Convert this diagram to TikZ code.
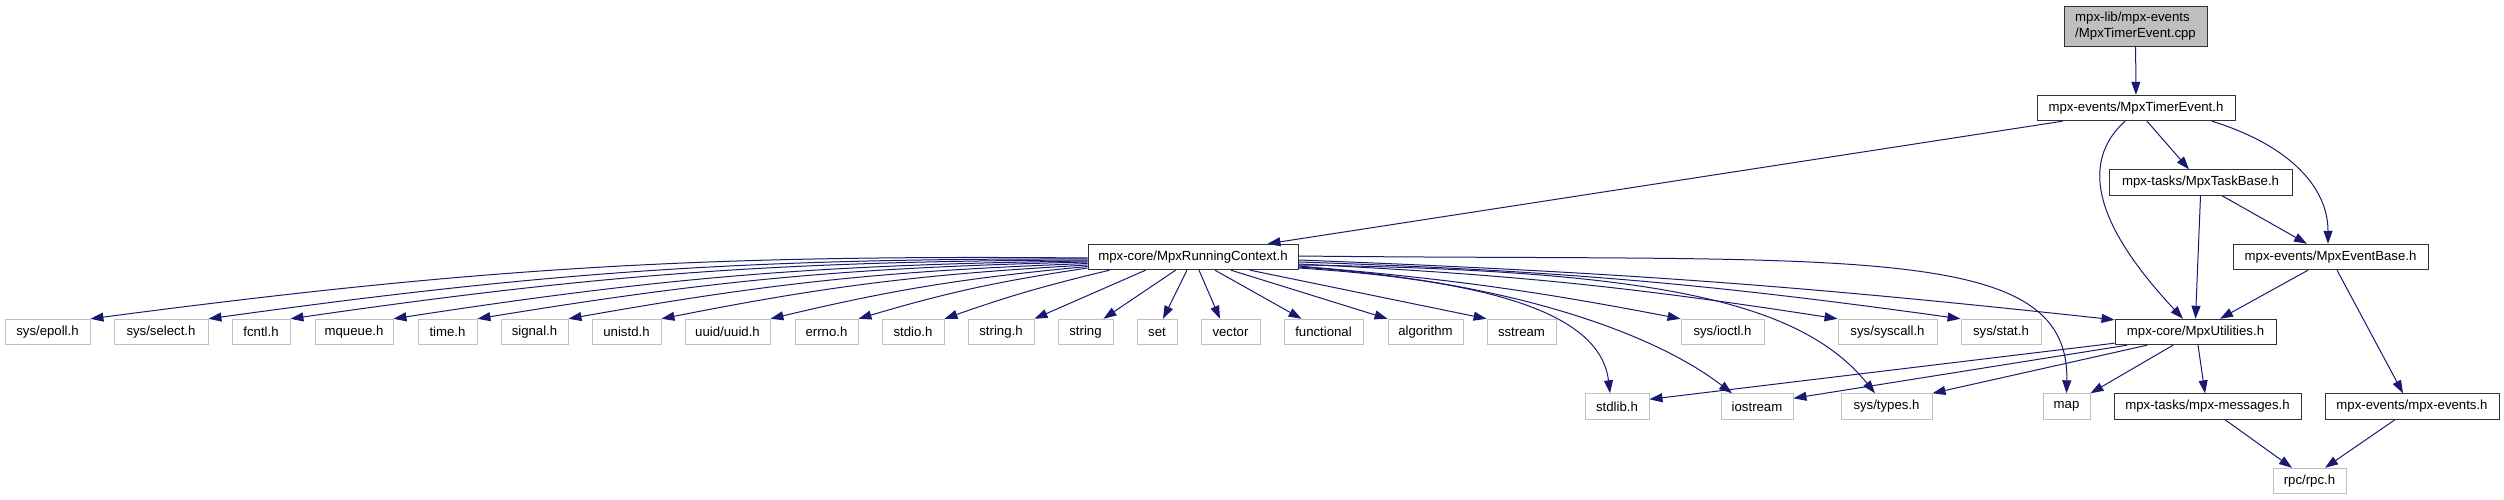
\documentclass[tikz,border=0pt]{standalone}
\usepackage{fontspec}
\setmainfont{Liberation Sans}
\usetikzlibrary{arrows.meta}
\definecolor{edgeblue}{HTML}{191970}
\definecolor{extgray}{HTML}{BFBFBF}
\tikzset{
  file/.style={draw=black!80, line width=0.9pt, fill=white, inner sep=0pt,
    minimum height=25.5pt, font=\fontsize{13.2}{16}\selectfont},
  sysfile/.style={file, draw=extgray},
  inc/.style={draw=edgeblue, line width=1pt, -{Triangle[length=13pt,width=9pt]}}
}
\begin{document}
\begin{tikzpicture}[x=1pt,y=1pt]
        \useasboundingbox (0,0) rectangle (2504,-500);
        % files of the project
        \node[file, fill=extgray, minimum width=143pt, minimum height=40pt, align=left] (root) at (2135.5,-26) {mpx-lib/mpx-events\\/MpxTimerEvent.cpp};
        \node[file, minimum width=198pt] (tev) at (2136,-108) {mpx-events/MpxTimerEvent.h};
        \node[file, minimum width=183pt] (tsk) at (2200.5,-182.5) {mpx-tasks/MpxTaskBase.h};
        \node[file, minimum width=210pt] (ctx) at (1193,-257) {mpx-core/MpxRunningContext.h};
        \node[file, minimum width=195pt] (evb) at (2330.5,-257) {mpx-events/MpxEventBase.h};
        \node[file, minimum width=161pt] (util) at (2195.5,-332) {mpx-core/MpxUtilities.h};
        \node[file, minimum width=187pt] (msgs) at (2207.5,-406.5) {mpx-tasks/mpx-messages.h};
        \node[file, minimum width=174pt] (evts) at (2412,-406.5) {mpx-events/mpx-events.h};
        % system headers
        \node[sysfile, minimum width=85pt] (epoll) at (47.5,-332) {sys/epoll.h};
        \node[sysfile, minimum width=94pt] (select) at (161,-332) {sys/select.h};
        \node[sysfile, minimum width=58pt] (fcntl) at (261,-332) {fcntl.h};
        \node[sysfile, minimum width=78pt] (mqueue) at (354,-332) {mqueue.h};
        \node[sysfile, minimum width=59pt] (timeh) at (447.5,-332) {time.h};
        \node[sysfile, minimum width=67pt] (signal) at (534.5,-332) {signal.h};
        \node[sysfile, minimum width=69pt] (unistd) at (626.5,-332) {unistd.h};
        \node[sysfile, minimum width=85pt] (uuid) at (727.5,-332) {uuid/uuid.h};
        \node[sysfile, minimum width=63pt] (errno) at (826.5,-332) {errno.h};
        \node[sysfile, minimum width=62pt] (stdio) at (913,-332) {stdio.h};
        \node[sysfile, minimum width=66pt] (strh) at (1001,-332) {string.h};
        \node[sysfile, minimum width=55pt] (str) at (1085.5,-332) {string};
        \node[sysfile, minimum width=40pt] (set) at (1157,-332) {set};
        \node[sysfile, minimum width=59pt] (vector) at (1230.5,-332) {vector};
        \node[sysfile, minimum width=79pt] (functional) at (1323.5,-332) {functional};
        \node[sysfile, minimum width=75pt] (algorithm) at (1425.5,-332) {algorithm};
        \node[sysfile, minimum width=69pt] (sstream) at (1521.5,-332) {sstream};
        \node[sysfile, minimum width=83pt] (ioctl) at (1722.5,-332) {sys/ioctl.h};
        \node[sysfile, minimum width=99pt] (syscall) at (1887.5,-332) {sys/syscall.h};
        \node[sysfile, minimum width=80pt] (stat) at (2001,-332) {sys/stat.h};
        \node[sysfile, minimum width=64pt] (stdlib) at (1617,-406.5) {stdlib.h};
        \node[sysfile, minimum width=72pt] (iostream) at (1757,-406.5) {iostream};
        \node[sysfile, minimum width=91pt] (types) at (1886.5,-406.5) {sys/types.h};
        \node[sysfile, minimum width=47pt] (map) at (2066.5,-406.5) {map};
        \node[sysfile, minimum width=73pt] (rpc) at (2309.5,-481) {rpc/rpc.h};
        % includes of the upper files
        \draw[inc] (root) -- (tev);
        \draw[inc] ([xshift=26pt]tev.south west) -- ([xshift=-31pt]ctx.north east);
        \draw[inc] ([xshift=11pt]tev.south) -- ([xshift=-11.5pt]tsk.north);
        \draw[inc] ([xshift=-11pt]tev.south) .. controls +(-55,-50) and +(-70,75) .. ([xshift=-12.5pt]util.north);
        \draw[inc] ([xshift=76pt]tev.south) .. controls +(80,-25) and +(0,55) .. ([xshift=-2.5pt]evb.north);
        \draw[inc] (tsk.south) -- (util.north);
        \draw[inc] ([xshift=21.5pt]tsk.south) -- ([xshift=-23.5pt]evb.north);
        \draw[inc] ([xshift=-22.5pt]evb.south) -- ([xshift=24.5pt]util.north);
        \draw[inc] ([xshift=6.5pt]evb.south) -- ([xshift=-9pt]evts.north);
        \draw[inc] ([xshift=2.5pt]util.south) -- ([xshift=-2.5pt]msgs.north);
        \draw[inc] ([xshift=-22.5pt]util.south) -- (map.north east);
        \draw[inc] ([xshift=-48.5pt]util.south) -- (types.north east);
        \draw[inc] ([xshift=-68.5pt]util.south) -- ([yshift=-5pt]iostream.north east);
        \draw[inc] ([yshift=2pt]util.south west) -- ([yshift=-6pt]stdlib.north east);
        \draw[inc] ([xshift=17.5pt]msgs.south) -- ([xshift=-17.5pt]rpc.north);
        \draw[inc] ([xshift=-17pt]evts.south) -- ([xshift=15.5pt]rpc.north);
        % includes of the running context
        \draw[inc] ([yshift=-1pt]ctx.west) to[bend right=4] (epoll.north east);
        \draw[inc] ([yshift=-2pt]ctx.west) to[bend right=4] (select.north east);
        \draw[inc] ([yshift=-3pt]ctx.west) to[bend right=4] (fcntl.north east);
        \draw[inc] ([yshift=-4pt]ctx.west) to[bend right=4] (mqueue.north east);
        \draw[inc] ([yshift=-5pt]ctx.west) to[bend right=4] (timeh.north east);
        \draw[inc] ([yshift=-6.5pt]ctx.west) to[bend right=4] (signal.north east);
        \draw[inc] ([yshift=-8pt]ctx.west) to[bend right=4] (unistd.north east);
        \draw[inc] ([yshift=-9.5pt]ctx.west) to[bend right=4] (uuid.north east);
        \draw[inc] ([yshift=-11pt]ctx.west) to[bend right=4] (errno.north east);
        \draw[inc] ([xshift=22pt]ctx.south west) to[bend right=3] (stdio.north east);
        \draw[inc] ([xshift=58pt]ctx.south west) -- (strh.north east);
        \draw[inc] ([xshift=88pt]ctx.south west) -- ([xshift=-10pt]str.north east);
        \draw[inc] ([xshift=-6pt]ctx.south) -- ([xshift=6pt]set.north);
        \draw[inc] ([xshift=6pt]ctx.south) -- ([xshift=-10.5pt]vector.north);
        \draw[inc] ([xshift=22pt]ctx.south) -- ([xshift=18pt]functional.north west);
        \draw[inc] ([xshift=38pt]ctx.south) -- (algorithm.north west);
        \draw[inc] ([xshift=57pt]ctx.south) -- (sstream.north west);
        \draw[inc] ([yshift=1pt]ctx.east) .. controls (1850,-262) and (2070,-240) .. (map.north);
        \draw[inc] ([yshift=-3pt]ctx.east) to[bend left=2] ([yshift=-1pt]util.north west);
        \draw[inc] ([yshift=-5pt]ctx.east) to[bend left=3] (stat.north west);
        \draw[inc] ([yshift=-7pt]ctx.east) to[bend left=3] (syscall.north west);
        \draw[inc] ([yshift=-9pt]ctx.east) to[bend left=3] (ioctl.north west);
        \draw[inc] ([yshift=-8pt]ctx.east) .. controls (1650,-270) and (1800,-300) .. ([xshift=-11.5pt]types.north);
        \draw[inc] ([yshift=-10pt]ctx.east) .. controls (1500,-280) and (1650,-330) .. ([xshift=-25pt]iostream.north);
        \draw[inc] ([yshift=-11pt]ctx.east) .. controls (1480,-280) and (1600,-310) .. ([xshift=-7pt]stdlib.north);
\end{tikzpicture}
\end{document}
